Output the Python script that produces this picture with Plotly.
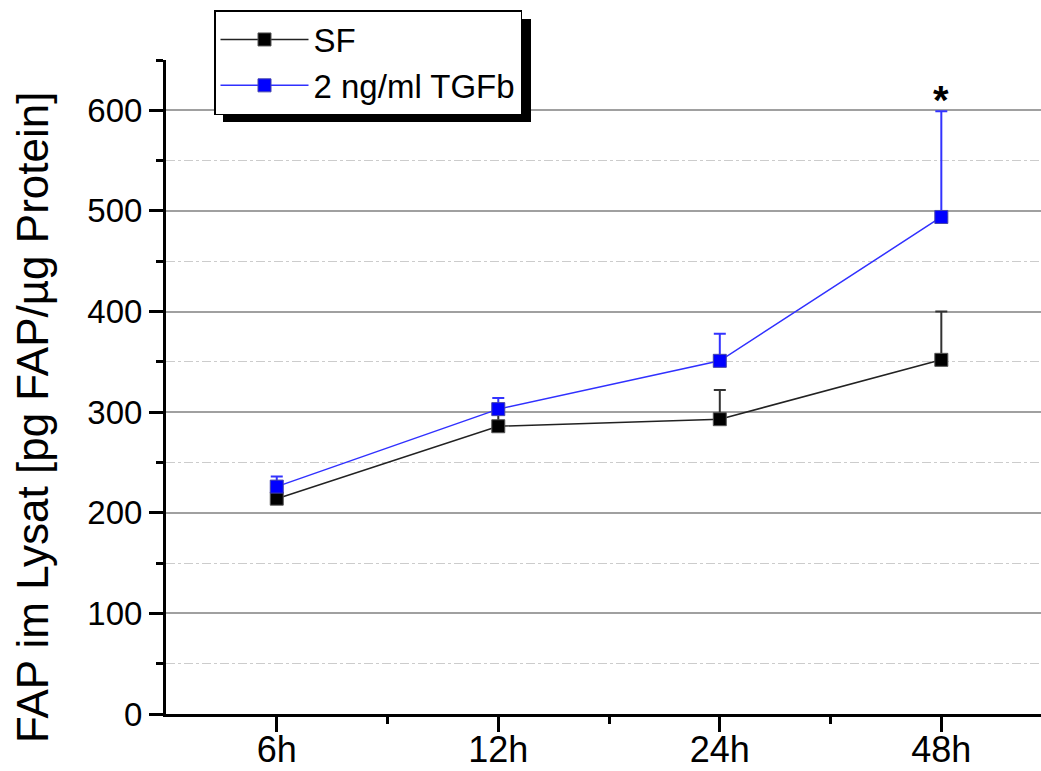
import plotly.graph_objects as go

categories = ["6h", "12h", "24h", "48h"]
sf_values = [214, 286, 293, 352]
sf_err = [10, 18, 29, 48]
tgf_values = [226, 303, 351, 494]
tgf_err = [10, 11, 27, 105]
zeros = [0, 0, 0, 0]

x_idx = list(range(len(categories)))

FONT = "Liberation Sans, Arial, sans-serif"

fig = go.Figure()

fig.add_trace(go.Scatter(
    x=x_idx, y=sf_values, name="SF", mode="lines+markers",
    line=dict(color="#222222", width=1.5),
    marker=dict(symbol="square", size=13, color="black", line=dict(color="#555555", width=1)),
    error_y=dict(type="data", symmetric=False, array=sf_err, arrayminus=zeros,
                 color="#333333", thickness=2, width=6),
    cliponaxis=False,
))
fig.add_trace(go.Scatter(
    x=x_idx, y=tgf_values, name="2 ng/ml TGFb", mode="lines+markers",
    line=dict(color="#3030ff", width=1.5),
    marker=dict(symbol="square", size=13, color="#0000ff", line=dict(color="#4444aa", width=1)),
    error_y=dict(type="data", symmetric=False, array=tgf_err, arrayminus=zeros,
                 color="#3333ff", thickness=2, width=6),
    cliponaxis=False,
))

L, R, T, B = 166, 0, 60, 57
W, H = 1041, 771
pw = W - L - R
ph = H - T - B

def px_x(p):
    return (p - L) / pw

def px_y(p):
    return (H - B - p) / ph

# legend shadow
fig.add_shape(type="rect", xref="paper", yref="paper",
              x0=px_x(223), x1=px_x(531), y0=px_y(122), y1=px_y(19),
              fillcolor="black", line=dict(width=0), layer="above")

fig.add_annotation(x=3, y=600, xref="x", yref="y", text="<b>*</b>", showarrow=False,
                   font=dict(size=40, color="black", family=FONT), yanchor="bottom", yshift=-14)

fig.add_annotation(x=px_x(32), y=px_y(418), xref="paper", yref="paper",
                   xanchor="center", yanchor="middle",
                   text="FAP im Lysat [pg FAP/µg Protein]", textangle=-90, showarrow=False,
                   font=dict(size=44, color="black", family=FONT))

fig.update_layout(
    width=W, height=H,
    margin=dict(l=L, r=R, t=T, b=B, autoexpand=False),
    paper_bgcolor="white", plot_bgcolor="white",
    font=dict(family=FONT, color="black"),
    showlegend=True,
    legend=dict(x=px_x(214), y=px_y(10), xanchor="left", yanchor="top",
                bgcolor="white", bordercolor="black", borderwidth=1.5,
                font=dict(size=33, family=FONT, color="black"),
                tracegroupgap=0, itemwidth=88),
    xaxis=dict(
        range=[-0.5, 3.45], automargin=False,
        tickmode="array", tickvals=x_idx, ticktext=categories,
        showgrid=False, zeroline=False,
        showline=True, linecolor="black", linewidth=3,
        ticks="outside", ticklen=15, tickwidth=3, tickcolor="black",
        ticklabelstandoff=-13,
        tickfont=dict(size=36, family=FONT, color="black"),
        minor=dict(tickvals=[0.5, 1.5, 2.5], ticks="outside", ticklen=7, tickwidth=3, tickcolor="black"),
    ),
    yaxis=dict(
        range=[0, 650], automargin=False,
        tickmode="array", tickvals=[0, 100, 200, 300, 400, 500, 600],
        showgrid=True, gridcolor="#a0a0a0", gridwidth=1.5,
        zeroline=False,
        showline=True, linecolor="black", linewidth=3,
        ticks="outside", ticklen=14, tickwidth=3, tickcolor="black",
        tickfont=dict(size=33, family=FONT, color="black"),
        minor=dict(tickvals=[50, 150, 250, 350, 450, 550, 650], ticks="outside", ticklen=7,
                   tickwidth=3, tickcolor="black", showgrid=True, gridcolor="#cccccc",
                   gridwidth=1.2, griddash="dashdot"),
    ),
)

fig.write_html("out.html")
